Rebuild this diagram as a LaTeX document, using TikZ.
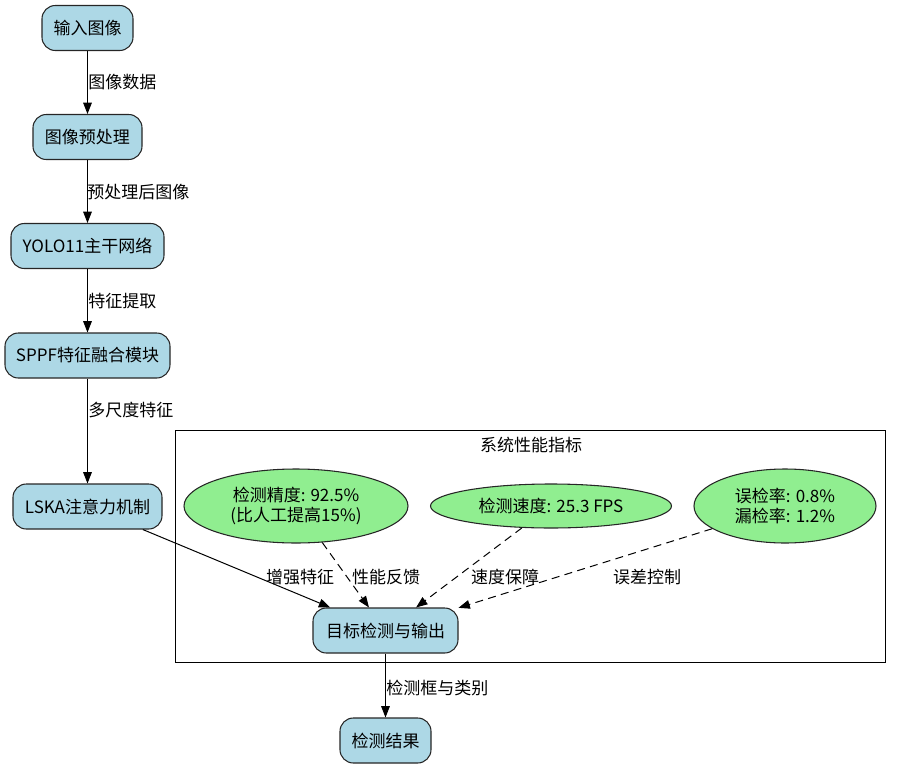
\documentclass[tikz,border=0pt]{standalone}
\usepackage{fontspec}
\setmainfont{Noto Sans CJK SC}
\usetikzlibrary{arrows.meta,shapes.geometric}
\definecolor{boxblue}{HTML}{ADD8E6}
\definecolor{ellgreen}{HTML}{90EE90}
\begin{document}
\begin{tikzpicture}[x=0.75pt,y=-0.75pt,
 font=\fontsize{12.75pt}{15pt}\selectfont,
 box/.style={draw=black!85, fill=boxblue, rounded corners=10pt, minimum height=33.75pt, inner sep=0pt, line width=0.8pt},
 ell/.style={draw=black!85, fill=ellgreen, ellipse, inner sep=0pt, line width=0.8pt, align=center},
 arr/.style={-{Triangle[length=8.5pt,width=6.5pt]}, line width=0.75pt},
 dasharr/.style={arr, dash pattern=on 6pt off 4pt},
 lbl/.style={inner sep=0pt, anchor=west},
 clbl/.style={inner sep=0pt}]
\useasboundingbox (0,0) rectangle (901,768);
% cluster
\draw[line width=0.7pt] (175,430) rectangle (885,662);
\node[clbl] (ctitle) at (531,445) {系统性能指标};
% nodes
\node[box, minimum width=68.25pt] (in) at (87.5,28) {输入图像};
\node[box, minimum width=81.75pt] (pre) at (87.5,137) {图像预处理};
\node[box, minimum width=114.75pt] (yolo) at (87.5,246) {YOLO11主干网络};
\node[box, minimum width=123.75pt] (sppf) at (87.5,355.5) {SPPF特征融合模块};
\node[box, minimum width=111.75pt] (lska) at (87.5,506.5) {LSKA注意力机制};
\node[box, minimum width=108.75pt] (det) at (385.5,630.5) {目标检测与输出};
\node[box, minimum width=68.25pt] (res) at (385.5,740.5) {检测结果};
\node[ell, minimum width=168pt, minimum height=55.5pt] (e1) at (296,506) {检测精度: 92.5\%\\(比人工提高15\%)};
\node[ell, minimum width=180.75pt, minimum height=33pt] (e2) at (551,506) {检测速度: 25.3 FPS};
\node[ell, minimum width=136.5pt, minimum height=55.5pt] (e3) at (785,506) {误检率: 0.8\%\\漏检率: 1.2\%};
% edges
\draw[arr] (in) -- (pre);
\draw[arr] (pre) -- (yolo);
\draw[arr] (yolo) -- (sppf);
\draw[arr] (sppf) -- (lska);
\draw[arr] (lska) -- (det);
\draw[dasharr] (e1) -- (det);
\draw[dasharr] (e2) -- (det);
\draw[dasharr] (e3) -- (det);
\draw[arr] (det) -- (res);
% labels
\node[lbl] (l1) at (88,82) {图像数据};
\node[lbl] (l2) at (87,192) {预处理后图像};
\node[lbl] (l3) at (88,301) {特征提取};
\node[lbl] (l4) at (88,410) {多尺度特征};
\node[clbl] (l5) at (300,577) {增强特征};
\node[clbl] (l6) at (386,577) {性能反馈};
\node[clbl] (l7) at (505,577) {速度保障};
\node[clbl] (l8) at (647,577) {误差控制};
\node[lbl] (l9) at (386,688) {检测框与类别};
\end{tikzpicture}
\end{document}
